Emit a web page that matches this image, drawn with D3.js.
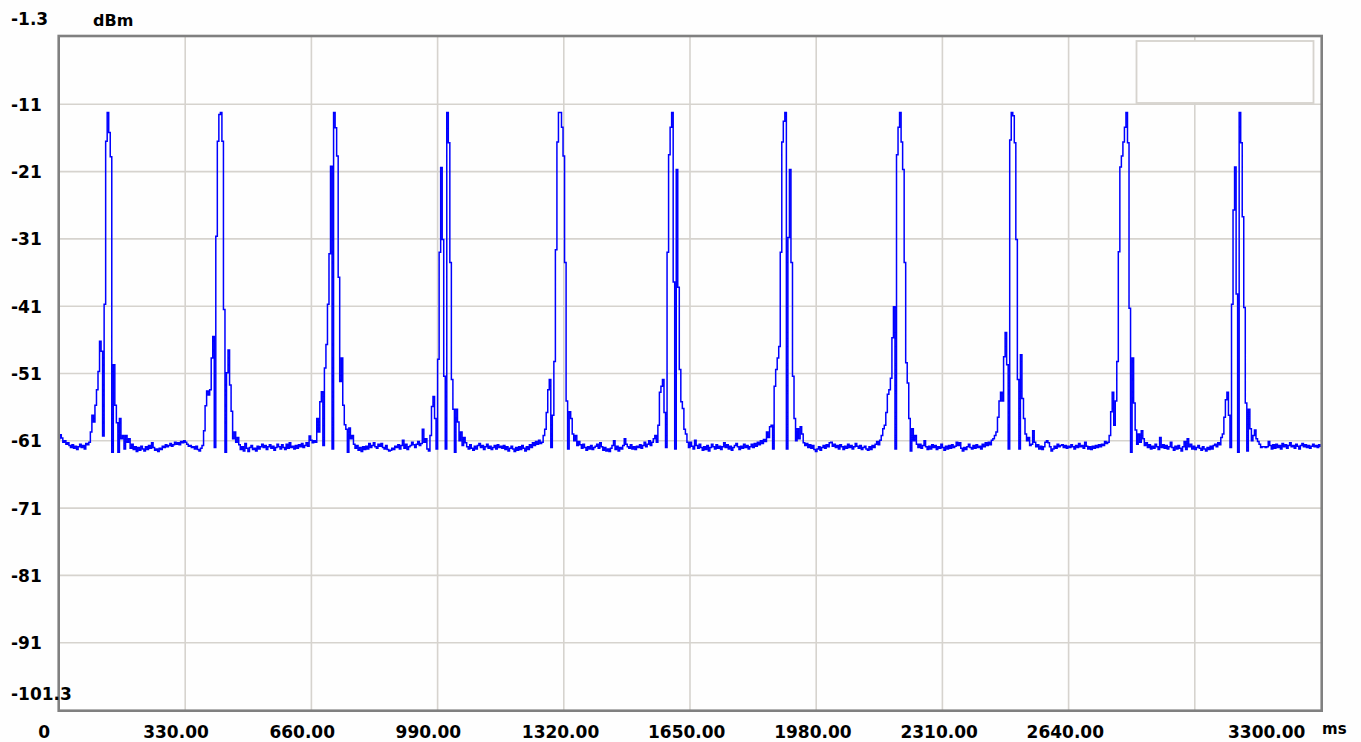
<!DOCTYPE html>
<html><head><meta charset="utf-8">
<script src="https://cdn.jsdelivr.net/npm/d3@7"></script>
<style>html,body{margin:0;padding:0;background:#fefefe;} svg{display:block;}</style>
</head><body><svg id="c" width="1361" height="742"></svg>
<script>
// ---- data ----
const sampleStepMs = 4;           // trace sample interval (ms), first sample at 0 ms
const traceDbm = [
  // floor
  -61.0,-60.4,-60.9,-61.5,-61.3,-61.8,-61.6,-62.0,-62.3,-61.9,-62.4,-62.1,-62.6,-62.2,-61.8,-62.3,-62.0,-62.5,-61.7,-61.9,
  // pulse 1
  -61.5,-60.0,-57.5,-58.5,-56.0,-53.7,-51.0,-46.5,-48.0,-60.6,-41.0,-16.8,-12.5,-15.5,-19.1,-63.0,-50.0,-56.0,-58.6,-63.0,-58.0,-61.0,-60.5,-62.5,-60.5,-61.5,-61.0,
  // floor
  -62.4,-61.8,-62.6,-62.2,-62.9,-62.3,-62.7,-62.1,-62.5,-62.8,-62.2,-62.6,-62.0,-62.4,-61.6,-62.3,-62.7,-62.5,-62.9,-62.4,
  -62.6,-62.1,-62.3,-61.9,-62.2,-62.0,-61.7,-62.1,-61.9,-61.5,-61.8,-61.6,-61.9,-61.4,-61.6,-61.3,-61.5,-61.8,-62.1,-62.0,
  -62.3,-62.2,-62.5,-62.1,-62.6,-62.8,-62.4,
  // pulse 2
  -62.0,-59.8,-56.1,-53.9,-54.5,-53.7,-49.0,-45.8,-62.3,-30.9,-16.8,-12.8,-12.5,-16.8,-41.8,-63.0,-51.2,-47.8,-53.0,-56.9,-61.0,-60.0,-61.5,-60.8,
  // floor
  -61.9,-62.6,-62.2,-62.8,-61.7,-62.4,-62.9,-62.3,-62.0,-62.6,-62.4,-62.8,-62.1,-62.5,-62.2,-61.8,-62.3,-62.0,-62.6,-62.2,
  -61.9,-62.4,-62.1,-62.7,-62.3,-61.8,-62.2,-62.5,-61.9,-62.3,-62.6,-61.8,-62.4,-61.6,-62.3,-62.1,-62.5,-62.0,-62.4,-61.9,
  -62.2,-61.7,-62.3,-62.0,-61.6,-62.1,-60.6,-61.2,-61.6,-61.3,
  // pulse 3
  -61.5,-58.0,-60.0,-55.5,-54.0,-62.0,-50.5,-47.0,-41.0,-33.5,-20.5,-62.5,-12.5,-14.8,-19.0,-37.0,-52.5,-49.0,-56.0,-58.9,-59.6,-63.0,-59.4,-61.0,-60.5,
  // floor
  -61.8,-62.4,-62.0,-62.7,-62.3,-62.9,-62.2,-62.6,-62.1,-62.5,-61.7,-62.3,-62.0,-61.6,-62.2,-62.4,-61.8,-62.1,-61.7,-62.3,
  -62.5,-62.0,-62.6,-62.8,-62.7,-62.4,-62.6,-62.1,-62.3,-61.9,-62.5,-62.0,-61.2,-62.4,-61.8,-62.6,-62.2,-62.0,-61.5,-61.9,
  -62.3,-61.8,-61.4,-62.0,-61.7,
  // pulse 4
  -59.6,-61.5,-61.0,-62.5,-62.8,-60.5,-56.2,-54.7,-58.0,-62.5,-49.2,-33.3,-20.7,-31.4,-51.7,-62.5,-12.5,-17.0,-34.8,-52.2,-56.6,-63.0,-56.6,-58.5,-61.3,-60.0,-62.0,-60.8,
  // floor
  -61.6,-62.2,-62.5,-61.9,-62.4,-62.7,-62.1,-62.5,-62.0,-61.7,-62.3,-62.0,-62.6,-62.2,-61.8,-62.4,-62.1,-62.6,-62.3,-62.0,
  -62.5,-61.9,-62.3,-62.1,-62.4,-62.0,-62.6,-62.2,-62.8,-62.4,-62.1,-62.5,-62.9,-62.3,-62.7,-62.2,-62.6,-62.0,-62.4,-62.8,
  -62.2,-62.6,-61.9,-62.3,-61.6,-62.0,-61.4,-61.8,-61.2,-61.7,
  // pulse 5
  -61.5,-60.5,-59.6,-57.1,-53.7,-52.2,-62.3,-57.5,-49.5,-32.9,-16.9,-12.5,-12.5,-14.7,-19.0,-34.8,-55.4,-62.5,-57.0,-58.0,-60.3,-61.3,-60.5,-62.0,
  // floor
  -61.4,-61.9,-62.4,-61.8,-62.3,-62.7,-62.2,-62.5,-62.0,-62.6,-62.3,-62.1,-61.8,-62.4,-61.6,-62.2,-62.7,-62.3,-62.8,-62.5,
  -62.9,-62.4,-62.0,-61.3,-62.6,-62.1,-62.8,-62.3,-62.5,-62.0,-61.0,-61.8,-62.2,-62.4,-61.9,-62.5,-62.2,-62.6,-62.1,-62.3,
  -61.9,-62.4,-62.0,-61.5,-62.2,-61.8,-61.3,-62.0,-61.5,
  // pulse 6
  -61.0,-60.5,-61.5,-59.0,-54.1,-53.2,-52.2,-57.1,-62.3,-33.3,-18.8,-14.7,-12.5,-37.7,-62.5,-21.0,-38.5,-50.7,-55.5,-56.5,-59.6,-60.3,-61.5,-62.3,
  // floor
  -61.5,-62.1,-62.5,-61.2,-62.0,-62.4,-61.8,-62.3,-62.7,-62.2,-62.6,-62.0,-62.8,-62.3,-61.8,-62.2,-62.5,-61.9,-62.4,-62.1,
  -62.6,-62.2,-61.6,-62.3,-61.9,-62.5,-62.1,-62.7,-62.3,-62.0,-61.7,-62.2,-62.6,-62.1,-62.4,-61.8,-62.3,-62.0,-62.5,-62.2,
  -61.8,-62.3,-61.7,-62.1,-61.5,-61.9,-61.3,-61.7,-61.1,-61.4,
  // pulse 7
  -60.0,-60.8,-59.2,-59.0,-62.5,-53.2,-50.7,-49.0,-47.3,-33.3,-16.9,-13.8,-12.5,-62.5,-31.1,-21.0,-34.8,-51.7,-58.0,-61.3,-59.5,-61.0,-59.2,-60.3,
  // floor
  -61.6,-62.0,-61.7,-62.3,-61.9,-62.4,-62.0,-62.6,-62.9,-62.5,-62.2,-62.7,-62.3,-62.0,-62.4,-61.9,-62.2,-61.6,-61.5,-62.1,
  -61.8,-62.3,-62.0,-62.5,-61.9,-62.2,-62.6,-62.1,-62.4,-61.8,-62.3,-62.0,-62.5,-62.2,-61.7,-62.1,-62.4,-62.0,-62.6,-62.3,
  -62.1,-62.5,-62.7,-62.2,-62.6,-62.0,-62.3,-61.8,-61.4,-61.9,-61.2,
  // pulse 8
  -60.5,-59.5,-59.0,-57.1,-54.4,-53.7,-52.0,-46.0,-41.4,-62.5,-18.8,-14.7,-12.5,-16.9,-21.0,-34.8,-49.7,-52.7,-58.0,-62.8,-59.5,-61.3,-60.5,-61.8,
  // floor
  -62.3,-61.8,-62.4,-62.0,-61.3,-62.2,-62.6,-62.1,-62.5,-61.9,-62.3,-62.0,-62.6,-62.2,-62.4,-61.8,-62.3,-62.7,-62.1,-62.5,
  -62.0,-62.4,-61.9,-62.3,-62.1,-61.5,-62.0,-61.6,-62.4,-62.8,-62.3,-62.6,-62.2,-61.8,-62.3,-62.5,-62.0,-62.4,-61.9,-62.3,
  -62.1,-62.5,-61.8,-62.2,-61.6,-62.0,-61.5,-61.9,-61.2,
  // pulse 9
  -61.0,-60.5,-60.0,-57.8,-55.4,-54.1,-55.4,-48.8,-45.2,-50.0,-62.5,-16.6,-12.5,-13.0,-17.0,-31.4,-52.2,-62.5,-48.5,-55.0,-58.0,-60.3,-61.3,-60.8,-62.0,
  // floor
  -61.8,-59.8,-61.5,-62.2,-61.9,-62.5,-62.1,-62.6,-62.2,-61.5,-61.3,-61.6,-62.2,-62.8,-62.5,-62.1,-62.4,-61.8,-62.2,-62.0,
  -61.9,-62.3,-62.0,-62.4,-62.1,-62.3,-61.9,-62.2,-62.5,-62.0,-62.3,-61.7,-62.2,-62.0,-62.4,-61.5,-62.1,-62.5,-62.2,-62.6,
  -62.1,-62.4,-62.0,-62.3,-61.9,-62.2,-61.8,-62.0,-61.4,-61.7,
  // pulse 10
  -61.5,-60.5,-57.0,-54.1,-59.0,-55.4,-49.5,-33.2,-20.6,-19.0,-16.9,-14.7,-12.5,-17.0,-41.6,-63.0,-49.0,-55.7,-59.7,-61.8,-60.3,-61.5,-59.8,-61.0,
  // floor
  -62.0,-61.6,-62.3,-61.9,-62.5,-62.1,-62.4,-61.8,-62.2,-62.6,-60.8,-62.3,-61.9,-62.4,-62.0,-62.5,-62.2,-61.5,-62.3,-62.7,
  -62.1,-62.5,-62.0,-62.4,-62.8,-62.2,-61.4,-62.6,-61.0,-62.2,-61.8,-62.5,-62.1,-62.6,-62.3,-62.0,-62.4,-62.7,-62.2,-62.5,
  -62.8,-62.3,-62.6,-62.1,-62.5,-62.0,-61.8,-62.2,-61.6,-61.9,
  // pulse 11
  -60.8,-60.3,-57.8,-55.2,-54.1,-57.5,-62.3,-41.0,-27.0,-20.6,-39.5,-63.0,-12.5,-17.0,-28.0,-41.5,-55.7,-62.8,-56.6,-59.5,-61.3,-60.5,-59.7,-61.0,
  // floor
  -61.4,-61.8,-62.3,-62.2,-62.2,-62.3,-62.2,-61.4,-62.0,-62.5,-61.9,-62.4,-61.8,-62.3,-62.0,-62.5,-61.7,-62.2,-61.9,-62.4,
  -62.0,-61.6,-62.2,-62.0,-62.4,-61.8,-62.1,-62.5,-62.0,-61.7,-62.2,-61.9,-62.3,-62.0,-62.4,-62.1,-61.8,-62.2,-62.0,-62.3,
  -61.9,-62.1
];
const xDomainMs = [0, 3300];
const yDomainDbm = [-101.3, -1.3];
const xGridMs = [330, 660, 990, 1320, 1650, 1980, 2310, 2640, 2970];
const xTickMs = [0, 330, 660, 990, 1320, 1650, 1980, 2310, 2640, 3300];
const xTickLabels = ["0", "330.00", "660.00", "990.00", "1320.00", "1650.00", "1980.00", "2310.00", "2640.00", "3300.00"];
const yGridDbm = [-11.3, -21.3, -31.3, -41.3, -51.3, -61.3, -71.3, -81.3, -91.3];
const yTickDbm = [-1.3, -11.3, -21.3, -31.3, -41.3, -51.3, -61.3, -71.3, -81.3, -91.3, -101.3];
const yTickLabels = ["-1.3", "-11", "-21", "-31", "-41", "-51", "-61", "-71", "-81", "-91", "-101.3"];
const xUnit = "ms";
const yUnit = "dBm";

// ---- layout ----
const L = 59, R = 1321, T = 37, B = 710;
const svg = d3.select("#c");
const x = d3.scaleLinear().domain(xDomainMs).range([L, R]);
const y = d3.scaleLinear().domain(yDomainDbm).range([B, T]);
const font = "'DejaVu Sans', Verdana, sans-serif";
const gridColor = "#d6d3ce";

svg.append("rect").attr("width", 1361).attr("height", 742).attr("fill", "#fefefe");

// grid
svg.append("g").selectAll("line").data(yGridDbm).join("line")
  .attr("x1", L).attr("x2", R).attr("y1", d => y(d)).attr("y2", d => y(d))
  .attr("stroke", gridColor).attr("stroke-width", 1.6);
svg.append("g").selectAll("line").data(xGridMs).join("line")
  .attr("y1", T).attr("y2", B).attr("x1", d => x(d)).attr("x2", d => x(d))
  .attr("stroke", gridColor).attr("stroke-width", 1.6);

// legend box (empty)
svg.append("rect").attr("x", 1136.5).attr("y", 41).attr("width", 177).attr("height", 62)
  .attr("fill", "#fefefe").attr("stroke", gridColor).attr("stroke-width", 1.8);

// trace
svg.append("clipPath").attr("id", "clip").append("rect")
  .attr("x", L).attr("y", T).attr("width", R - L).attr("height", B - T);
const line = d3.line()
  .x((d, i) => x(i * sampleStepMs))
  .y(d => y(d))
  .curve(d3.curveStep);
svg.append("path").datum(traceDbm)
  .attr("d", line).attr("fill", "none")
  .attr("stroke", "#0000ff").attr("stroke-width", 1.5)
  .attr("stroke-linejoin", "miter")
  .attr("clip-path", "url(#clip)");

// frame
svg.append("rect").attr("x", 58.7).attr("y", 36).attr("width", 1263).attr("height", 674.7)
  .attr("fill", "none").attr("stroke", "#808080").attr("stroke-width", 2.6);

// y labels
svg.append("g").selectAll("text").data(yTickDbm).join("text")
  .attr("x", 11)
  .attr("y", (d, i) => i === 0 ? y(d) - 12 : (i === yTickDbm.length - 1 ? y(d) - 10.5 : y(d) + 6.5))
  .attr("font-family", font).attr("font-weight", "bold").attr("font-size", 17)
  .attr("fill", "#000")
  .text((d, i) => yTickLabels[i]);
svg.append("text").attr("x", 93).attr("y", 26)
  .attr("font-family", font).attr("font-weight", "bold").attr("font-size", 16)
  .attr("fill", "#000").text(yUnit);

// x labels
svg.append("g").selectAll("text").data(xTickMs).join("text")
  .attr("x", (d, i) => i === 0 ? x(d) - 20.7 : (i === xTickMs.length - 1 ? x(d) - 93 : x(d) - 42))
  .attr("y", 738)
  .attr("font-family", font).attr("font-weight", "bold").attr("font-size", 17)
  .attr("fill", "#000")
  .text((d, i) => xTickLabels[i]);
svg.append("text").attr("x", 1322).attr("y", 734)
  .attr("font-family", font).attr("font-weight", "bold").attr("font-size", 15)
  .attr("fill", "#000").text(xUnit);
</script>
</body></html>
